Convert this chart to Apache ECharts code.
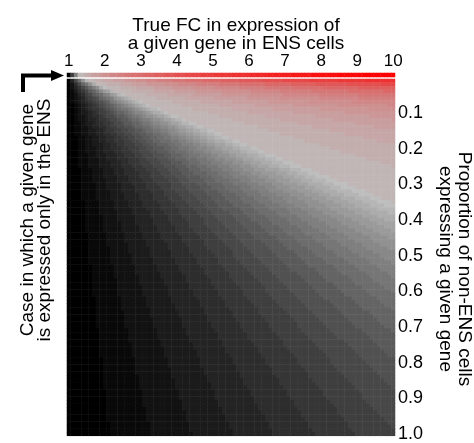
<!DOCTYPE html>
<html>
<head>
<meta charset="utf-8">
<script src="https://cdn.jsdelivr.net/npm/echarts@6/dist/echarts.min.js"></script>
<style>
  html, body { margin: 0; padding: 0; background: #fff; }
  #chart { width: 474px; height: 443px; }
</style>
</head>
<body>
<div id="chart"></div>
<script>
// axis ranges
const fcStart = 1, fcEnd = 10, fcStep = 0.1;      // true FC (columns)
const propStart = 0.01, propEnd = 1.0, propStep = 0.01; // proportion (rows)
const xTickLabels = ["1", "2", "3", "4", "5", "6", "7", "8", "9", "10"];
const yTickLabels = ["0.1", "0.2", "0.3", "0.4", "0.5", "0.6", "0.7", "0.8", "0.9", "1.0"];
const ensFraction = 0.012;

const fcValues = [];
for (let v = fcStart; v <= fcEnd + 1e-9; v += fcStep) fcValues.push(v.toFixed(1));
const propValues = [];
for (let v = propStart; v <= propEnd + 1e-9; v += propStep) propValues.push(v.toFixed(2));

// FC seen in whole tissue when non-ENS cells also express the gene
function observedFC(fc, p) {
  const e = ensFraction;
  return (e * fc + (1 - e) * p) / (e + (1 - e) * p);
}

const topData = fcValues.map((fc, i) => [i, 0, observedFC(+fc, 0)]);
const mainData = [];
propValues.forEach((p, j) => {
  fcValues.forEach((fc, i) => {
    mainData.push([i, j, observedFC(+fc, +p)]);
  });
});

// colour steps: black -> light grey up to 1.3, then grey -> red (log) up to 10
const pieces = [];
const greyTop = 1.3, greyLevels = 22, greyMax = 190;
const gStep = (greyTop - 1) / greyLevels;
for (let k = 0; k < greyLevels; k++) {
  const g = Math.round(greyMax * k / (greyLevels - 1));
  const piece = { lt: 1 + gStep * (k + 1), color: "rgb(" + g + "," + g + "," + g + ")" };
  if (k > 0) piece.gte = 1 + gStep * k;
  pieces.push(piece);
}
const redLevels = 24;
for (let k = 0; k < redLevels; k++) {
  const a = greyTop * Math.pow(10 / greyTop, k / redLevels);
  const b = greyTop * Math.pow(10 / greyTop, (k + 1) / redLevels);
  const t = (k + 1) / redLevels;
  const r = Math.round(greyMax + (255 - greyMax) * t);
  const gb = Math.round(greyMax * (1 - t));
  const piece = { gte: a, color: "rgb(" + r + "," + gb + "," + gb + ")" };
  if (k < redLevels - 1) piece.lt = b;
  pieces.push(piece);
}

const chart = echarts.init(document.getElementById("chart"));
const font = "Liberation Sans, Arial, sans-serif";

const option = {
  animation: false,
  title: {
    text: "True FC in expression of\na given gene in ENS cells",
    left: 231,
    top: 12,
    textAlign: "center",
    textStyle: { fontFamily: font, fontSize: 19, fontWeight: "normal", color: "#000", lineHeight: 18 }
  },
  grid: [
    { left: 67, width: 328, top: 73, height: 4 },
    { left: 67, width: 328, top: 79, bottom: 0 }
  ],
  xAxis: [
    {
      gridIndex: 0,
      type: "category",
      data: fcValues,
      position: "top",
      axisLine: { show: false },
      axisTick: { show: false },
      splitLine: { show: false },
      axisLabel: {
        interval: (i, v) => xTickLabels.indexOf(String(Number(v))) >= 0,
        formatter: v => String(Number(v)),
        fontFamily: font,
        fontSize: 17,
        color: "#000",
        margin: 3
      }
    },
    { gridIndex: 1, type: "category", data: fcValues, show: false }
  ],
  yAxis: [
    { gridIndex: 0, type: "category", data: ["0"], show: false },
    {
      gridIndex: 1,
      type: "category",
      data: propValues,
      inverse: true,
      position: "right",
      axisLine: { show: false },
      axisTick: { show: false },
      splitLine: { show: false },
      axisLabel: {
        interval: (i, v) => yTickLabels.indexOf(Number(v).toFixed(1)) >= 0 && Math.abs(Number(v) * 10 - Math.round(Number(v) * 10)) < 1e-6,
        formatter: v => Number(v).toFixed(1),
        fontFamily: font,
        fontSize: 18,
        color: "#000",
        margin: 3
      }
    }
  ],
  visualMap: {
    type: "piecewise",
    show: false,
    dimension: 2,
    seriesIndex: [0, 1],
    pieces: pieces
  },
  series: [
    {
      type: "heatmap",
      xAxisIndex: 0,
      yAxisIndex: 0,
      data: topData,
      progressive: 0
    },
    {
      type: "heatmap",
      xAxisIndex: 1,
      yAxisIndex: 1,
      data: mainData,
      progressive: 0
    }
  ],
  graphic: [
    {
      type: "text",
      x: 455,
      y: 269,
      rotation: -Math.PI / 2,
      style: {
        text: "Proportion of non-ENS cells\nexpressing a given gene",
        textAlign: "center",
        textVerticalAlign: "middle",
        font: "19px " + font,
        lineHeight: 19,
        fill: "#000"
      }
    },
    {
      type: "text",
      x: 36,
      y: 220,
      rotation: Math.PI / 2,
      style: {
        text: "Case in which a given gene\nis expressed only in the ENS",
        textAlign: "center",
        textVerticalAlign: "middle",
        font: "19px " + font,
        lineHeight: 17,
        fill: "#000"
      }
    },
    {
      type: "polyline",
      shape: { points: [[23, 92], [23, 75.5], [54, 75.5]] },
      style: { stroke: "#000", lineWidth: 4, fill: null }
    },
    {
      type: "polygon",
      shape: { points: [[51, 70], [64, 75.5], [51, 81]] },
      style: { fill: "#000" }
    }
  ]
};

chart.setOption(option);
</script>
</body>
</html>
